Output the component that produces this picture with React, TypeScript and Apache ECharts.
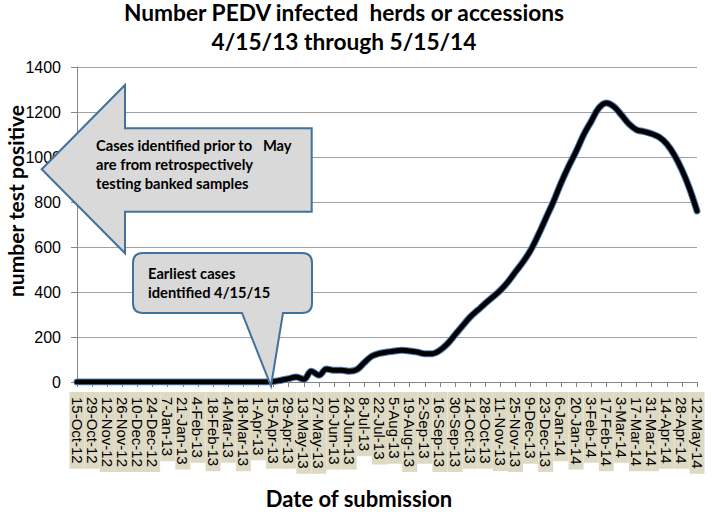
import React, { useEffect, useRef } from "react";
import * as echarts from "echarts";

const weeks: string[] = [
  "15-Oct-12", "22-Oct-12", "29-Oct-12", "5-Nov-12", "12-Nov-12", "19-Nov-12", "26-Nov-12",
  "3-Dec-12", "10-Dec-12", "17-Dec-12", "24-Dec-12", "31-Dec-12", "7-Jan-13", "14-Jan-13",
  "21-Jan-13", "28-Jan-13", "4-Feb-13", "11-Feb-13", "18-Feb-13", "25-Feb-13", "4-Mar-13",
  "11-Mar-13", "18-Mar-13", "25-Mar-13", "1-Apr-13", "8-Apr-13", "15-Apr-13", "22-Apr-13",
  "29-Apr-13", "6-May-13", "13-May-13", "20-May-13", "27-May-13", "3-Jun-13", "10-Jun-13",
  "17-Jun-13", "24-Jun-13", "1-Jul-13", "8-Jul-13", "15-Jul-13", "22-Jul-13", "29-Jul-13",
  "5-Aug-13", "12-Aug-13", "19-Aug-13", "26-Aug-13", "2-Sep-13", "9-Sep-13", "16-Sep-13",
  "23-Sep-13", "30-Sep-13", "7-Oct-13", "14-Oct-13", "21-Oct-13", "28-Oct-13", "4-Nov-13",
  "11-Nov-13", "18-Nov-13", "25-Nov-13", "2-Dec-13", "9-Dec-13", "16-Dec-13", "23-Dec-13",
  "30-Dec-13", "6-Jan-14", "13-Jan-14", "20-Jan-14", "27-Jan-14", "3-Feb-14", "10-Feb-14",
  "17-Feb-14", "24-Feb-14", "3-Mar-14", "10-Mar-14", "17-Mar-14", "24-Mar-14", "31-Mar-14",
  "7-Apr-14", "14-Apr-14", "21-Apr-14", "28-Apr-14", "5-May-14", "12-May-14",
];

const positives: number[] = [
  0, 0, 0, 0, 0, 0, 0, 0, 0, 0, 0, 0, 0, 0, 0, 0, 0, 0, 0, 0, 0, 0, 0, 0, 0, 0,
  2, 8, 15, 22, 12, 48, 30, 58, 52, 52, 48, 55, 86, 115, 127, 133, 138, 141, 138, 133,
  126, 126, 141, 170, 210, 250, 289, 319, 349, 378, 408, 445, 490, 534, 586, 653, 727,
  801, 883, 957, 1024, 1098, 1158, 1217, 1240, 1224, 1187, 1147, 1121, 1113, 1103, 1088,
  1058, 1009, 943, 861, 760,
];

const yMin = 0;
const yMax = 1400;
const yStep = 200;

const titleLines = ["Number PEDV infected  herds or accessions", "4/15/13 through 5/15/14"];
const arrowNote = ["Cases identified prior to   May", "are from retrospectively", "testing banked samples"];
const calloutNote = ["Earliest cases", "identified 4/15/15"];

const calloutPath =
  "M 143 253 L 302 253 Q 312 253 312 263 L 312 303 Q 312 313 302 313 L 283 313 L 271 386 L 242 313 L 143 313 Q 133 313 133 303 L 133 263 Q 133 253 143 253 Z";
echarts.graphic.registerShape("calloutShape", echarts.graphic.extendPath(calloutPath, {}) as any);

const FONT = "Lato, 'Open Sans', sans-serif";
const BORDER = "#41719c";
const FILL = "#d9d9d9";

export default function App() {
  const ref = useRef<HTMLDivElement>(null);
  useEffect(() => {
    if (!ref.current) return;
    const chart = echarts.init(ref.current, null, { renderer: "svg" });
    const lineSeries = (color: string, width: number, z: number) => ({
      type: "line",
      data: positives,
      smooth: 0.4,
      symbol: "none",
      z,
      lineStyle: { color, width, cap: "round", join: "round" },
    });
    chart.setOption({
      animation: false,
      backgroundColor: "#ffffff",
      grid: { left: 77, right: 25, top: 67, bottom: 130, containLabel: false },
      xAxis: {
        type: "category",
        data: weeks,
        boundaryGap: false,
        axisLine: { lineStyle: { color: "#868686", width: 1 } },
        axisTick: { interval: 1, length: 5, lineStyle: { color: "#868686" } },
        axisLabel: {
          interval: 1,
          rotate: -90,
          showMinLabel: true,
          showMaxLabel: true,
          hideOverlap: false,
          fontSize: 15,
          fontFamily: "'Liberation Sans', Arial, sans-serif",
          color: "#000",
          backgroundColor: "#ddd9c3",
          padding: [0, 5, 0, 5],
          lineHeight: 15,
          margin: 10,
        },
        splitLine: { show: false },
      },
      yAxis: {
        type: "value",
        min: yMin,
        max: yMax,
        interval: yStep,
        axisLine: { show: true, lineStyle: { color: "#868686", width: 1 } },
        axisTick: { show: true, length: 6, lineStyle: { color: "#868686" } },
        axisLabel: {
          fontSize: 16,
          fontFamily: "'Liberation Sans', Arial, sans-serif",
          color: "#000",
          margin: 16,
          formatter: (v: number) => String(v),
        },
        splitLine: { lineStyle: { color: "#a0a0a0", width: 1 } },
      },
      series: [lineSeries("#4f81bd", 7, 2), lineSeries("#000000", 5, 3)],
      graphic: [
        {
          type: "text",
          x: 344,
          y: 12,
          z: 100,
          style: { text: titleLines[0], fill: "#000", font: `bold 22.7px ${FONT}`, align: "center", verticalAlign: "middle" },
        },
        {
          type: "text",
          x: 344,
          y: 41,
          z: 100,
          style: { text: titleLines[1], fill: "#000", font: `bold 22.7px ${FONT}`, align: "center", verticalAlign: "middle" },
        },
        {
          type: "text",
          x: 15,
          y: 201,
          rotation: Math.PI / 2,
          z: 100,
          style: { text: "number test positive", fill: "#000", font: `bold 21px ${FONT}`, align: "center", verticalAlign: "middle" },
        },
        {
          type: "text",
          x: 359,
          y: 498,
          z: 100,
          style: { text: "Date of submission", fill: "#000", font: `bold 22px ${FONT}`, align: "center", verticalAlign: "middle" },
        },
        {
          type: "polygon",
          z: 100,
          shape: {
            points: [
              [41.7, 169.3],
              [125, 85],
              [125, 128.3],
              [311.7, 128.3],
              [311.7, 211.7],
              [125, 211.7],
              [125, 253.3],
            ],
          },
          style: { fill: FILL, stroke: BORDER, lineWidth: 2 },
        },
        ...arrowNote.map((t, i) => ({
          type: "text",
          x: 96,
          y: 145 + i * 19,
          z: 101,
          style: { text: t, fill: "#000", font: `bold 14.7px ${FONT}`, align: "left", verticalAlign: "middle" },
        })),
        {
          type: "calloutShape",
          x: 0,
          y: 0,
          z: 100,
          style: { fill: FILL, stroke: BORDER, lineWidth: 2 },
        },
        ...calloutNote.map((t, i) => ({
          type: "text",
          x: 148,
          y: 273 + i * 19,
          z: 101,
          style: { text: t, fill: "#000", font: `bold 14.7px ${FONT}`, align: "left", verticalAlign: "middle" },
        })),
      ],
    });
    return () => chart.dispose();
  }, []);
  return <div ref={ref} style={{ position: "fixed", left: 0, top: 0, width: 722, height: 512 }} />;
}
